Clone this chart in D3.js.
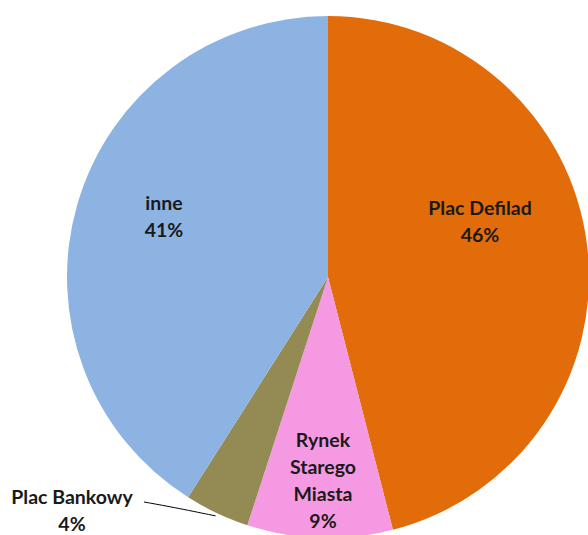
<!DOCTYPE html>
<html>
<head>
<meta charset="utf-8">
<script src="https://cdn.jsdelivr.net/npm/d3@7/dist/d3.min.js"></script>
<style>
  html, body { margin: 0; padding: 0; background: #fff; }
  svg { display: block; }
  text { font-family: Lato, "Noto Sans", sans-serif; font-weight: bold; font-size: 19.5px; fill: #1a1a1a; }
</style>
</head>
<body>
<svg id="chart" width="588" height="535"></svg>
<script>
// data (clockwise from 12 o'clock)
const categories = ['Plac Defilad', 'Rynek Starego Miasta', 'Plac Bankowy', 'inne'];
const values = [46, 9, 4, 41];
const colors = ['#E36C0A', '#F59AE2', '#948A54', '#8DB3E2'];
// how each label is broken into lines
const labelLines = [['Plac Defilad'], ['Rynek', 'Starego', 'Miasta'], ['Plac Bankowy'], ['inne']];

const width = 588, height = 535;
const cx = 328, cy = 277, radius = 261;
const lineH = 27;

// label anchors, relative to centre (Excel places them freely)
const labelPos = [
    { x: 152, y: -62 },
    { x: -5, y: 170 },
    { x: -256, y: 227 },
    { x: -164, y: -67 },
];

const svg = d3.select('#chart');
const g = svg.append('g').attr('transform', `translate(${cx},${cy})`);

const pie = d3.pie().sort(null).value(d => d.value);
const arc = d3.arc().innerRadius(0).outerRadius(radius);

const rows = categories.map((c, i) => ({ name: c, value: values[i], color: colors[i], lines: labelLines[i], pos: labelPos[i] }));
const arcs = pie(rows);

g.selectAll('path.slice')
    .data(arcs)
    .enter()
    .append('path')
    .attr('class', 'slice')
    .attr('d', arc)
    .attr('fill', d => d.data.color);

const total = d3.sum(values);

// leader line for the small slice
const small = arcs[2];
const edge = d3.arc().innerRadius(radius + 3).outerRadius(radius + 3).centroid(small);
g.append('path')
    .attr('d', d3.line().curve(d3.curveBasis)([
        [small.data.pos.x + 72, small.data.pos.y - 2],
        [small.data.pos.x + 100, small.data.pos.y + 3],
        [edge[0], edge[1]]]))
    .attr('stroke', '#000')
    .attr('stroke-width', 1)
    .attr('fill', 'none');

const labels = g.selectAll('text.label')
    .data(arcs)
    .enter()
    .append('text')
    .attr('class', 'label')
    .attr('text-anchor', 'middle')
    .attr('transform', d => `translate(${d.data.pos.x},${d.data.pos.y})`);

labels.each(function (d) {
    const t = d3.select(this);
    const lines = d.data.lines.concat([Math.round(d.data.value / total * 100) + '%']);
    lines.forEach((s, i) => {
        t.append('tspan')
            .attr('x', 0)
            .attr('y', i * lineH)
            .text(s);
    });
});
</script>
</body>
</html>
